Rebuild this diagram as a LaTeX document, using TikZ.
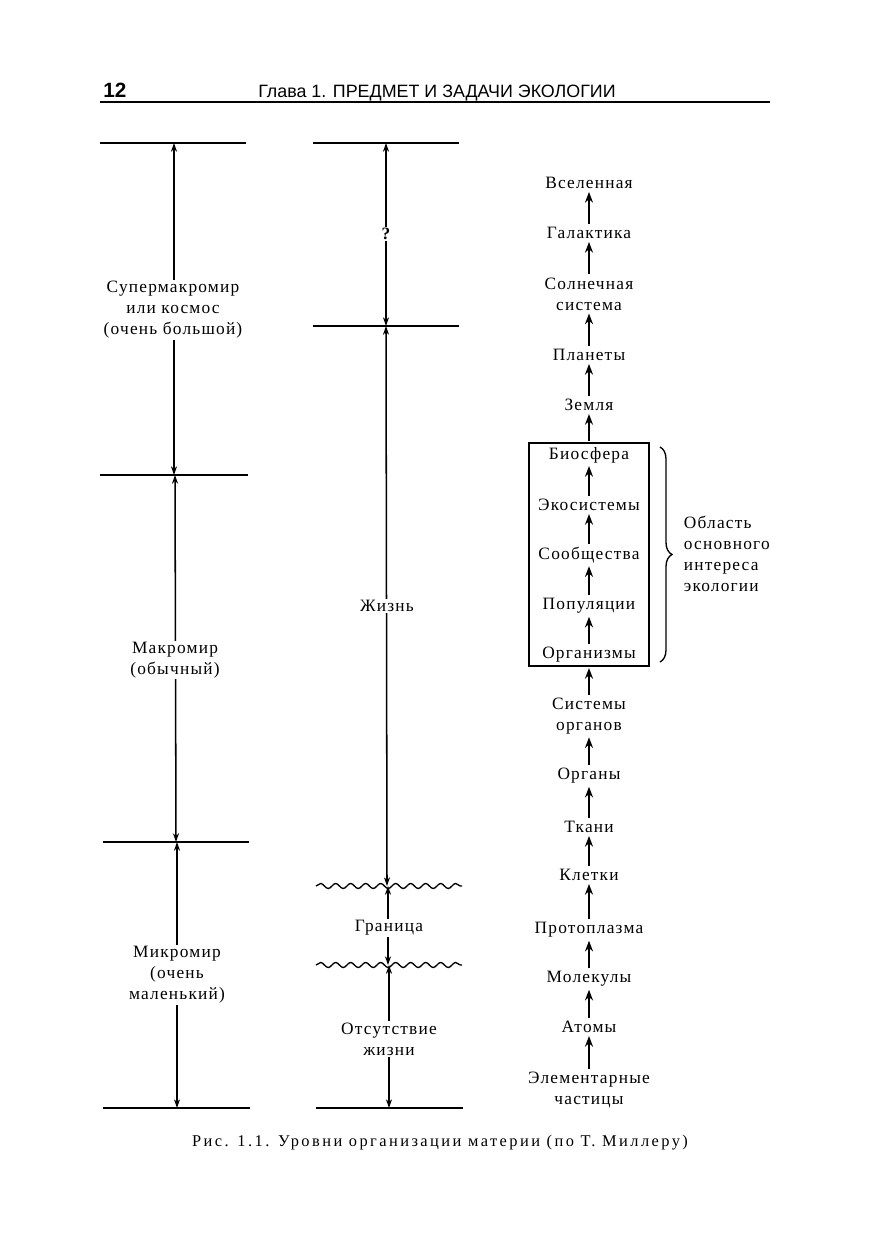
\documentclass[tikz,border=0pt]{standalone}
\usepackage{fontspec}
\setmainfont{Liberation Serif}
\newfontfamily\labfont[LetterSpace=7]{Liberation Serif}
\newfontfamily\capfontfam[LetterSpace=15]{Liberation Serif}
\newfontfamily\hdrfontfam{Liberation Sans}
\newfontfamily\hdrbold{Liberation Sans Bold}
\usetikzlibrary{arrows.meta,decorations.pathmorphing,decorations.pathreplacing}
\begin{document}
\begin{tikzpicture}[x=0.75pt,y=-0.75pt,
  lab/.style={font=\labfont\fontsize{13}{15.75}\selectfont, align=center, fill=white, inner sep=1pt},
  lvl/.style={font=\labfont\fontsize{13}{15.75}\selectfont, align=center, inner sep=1.2pt},
  hline/.style={line width=1.2pt},
  dim/.style={line width=1.15pt, {Stealth[length=6.5pt,width=4.5pt]}-{Stealth[length=6.5pt,width=4.5pt]}},
  up/.style={line width=1.9pt, -{Stealth[length=8pt,width=6pt]}, shorten <=1pt, shorten >=1pt},
  wave/.style={line width=1pt, decorate, decoration={snake, segment length=11.25pt, amplitude=1.9pt}}
]
\fill[white] (0,0) rectangle (883,1247);
\useasboundingbox (0,0) rectangle (883,1247);

% header
\node[font=\hdrbold\fontsize{15.5}{18}\selectfont, anchor=base west, inner sep=0] (pg) at (103,97) {12};
\node[font=\hdrfontfam\fontsize{13.4}{16}\selectfont, anchor=base west, inner sep=0] (hd) at (258,97) {Глава 1. ПРЕДМЕТ И ЗАДАЧИ ЭКОЛОГИИ};
\draw[line width=1.4pt] (100,102) -- (770,102);

% left column
\draw[hline] (100,143) -- (246,143);
\draw[hline] (100,475) -- (248,475);
\draw[hline] (103,842) -- (249,842);
\draw[hline] (103,1108) -- (250,1108);
\coordinate (a1) at (174,143);
\coordinate (a2) at (174,475);
\coordinate (a3) at (175,475);
\coordinate (a4) at (176,842);
\coordinate (a5) at (177,842);
\coordinate (a6) at (177,1108);
\draw[dim] (a1) -- (a2);
\draw[dim] (a3) -- (a4);
\draw[dim] (a5) -- (a6);
\node[lab] (supm) at (173,310) {Супермакромир\\или космос\\(очень большой)};
\node[lab] (makr) at (175,660) {Макромир\\(обычный)};
\node[lab] (mikr) at (177,975) {Микромир\\(очень\\маленький)};

% middle column
\draw[hline] (313,143) -- (459,143);
\draw[hline] (313,326) -- (459,326);
\draw[wave] (316,886) -- (462,886);
\draw[wave] (316,965) -- (462,965);
\draw[hline] (316,1108) -- (463,1108);
\coordinate (m1) at (386,143);
\coordinate (m2) at (386,326);
\coordinate (m3) at (387,886);
\coordinate (m4) at (388,886);
\coordinate (m5) at (388,965);
\coordinate (m6) at (389,965);
\coordinate (m7) at (389,1108);
\draw[dim] (m1) -- (m2);
\draw[dim] (m2) -- (m3);
\draw[dim] (m4) -- (m5);
\draw[dim] (m6) -- (m7);
\node[lab, font=\labfont\fontsize{13}{15.75}\selectfont\bfseries] (q) at (386,234) {?};
\node[lab] (zhizn) at (387,606) {Жизнь};
\node[lab] (gran) at (389,928) {Граница};
\node[lab] (otsut) at (389,1039) {Отсутствие\\жизни};

% right column
\node[lvl] (vsel) at (589,183) {Вселенная};
\node[lvl] (gal) at (589,233) {Галактика};
\node[lvl] (sol) at (589,294) {Солнечная\\система};
\node[lvl] (plan) at (589,355) {Планеты};
\node[lvl] (zem) at (589,405) {Земля};
\node[lvl] (bio) at (589,455) {Биосфера};
\node[lvl] (eko) at (589,505) {Экосистемы};
\node[lvl] (soob) at (589,555) {Сообщества};
\node[lvl] (pop) at (589,606) {Популяции};
\node[lvl] (org) at (589,655) {Организмы};
\node[lvl] (sist) at (589,716) {Системы\\органов};
\node[lvl] (organy) at (589,776) {Органы};
\node[lvl] (tkan) at (589,827) {Ткани};
\node[lvl] (klet) at (589,875) {Клетки};
\node[lvl] (prot) at (589,930) {Протоплазма};
\node[lvl] (mol) at (589,979) {Молекулы};
\node[lvl] (atom) at (589,1027) {Атомы};
\node[lvl] (elem) at (589,1090) {Элементарные\\частицы};

\node[draw, line width=1pt, minimum width=90pt, minimum height=167.25pt, inner sep=0] (box) at (589,554.5) {};

\draw[up] (gal) -- (vsel);
\draw[up] (sol) -- (gal);
\draw[up] (plan) -- (sol);
\draw[up] (zem) -- (plan);
\draw[up] (box.north) -- (zem);
\draw[up] (eko) -- (bio);
\draw[up] (soob) -- (eko);
\draw[up] (pop) -- (soob);
\draw[up] (org) -- (pop);
\draw[up] (sist) -- (box.south);
\draw[up] (organy) -- (sist);
\draw[up] (tkan) -- (organy);
\draw[up] (klet) -- (tkan);
\draw[up] (prot) -- (klet);
\draw[up] (mol) -- (prot);
\draw[up] (atom) -- (mol);
\draw[up] (elem) -- (atom);

\coordinate (b1) at (660,447);
\coordinate (b2) at (660,662);
\draw[line width=1pt, decorate, decoration={brace, amplitude=9pt}] (b1) -- (b2);
\node[lvl, align=left, anchor=west] (obl) at (682,554) {Область\\основного\\интереса\\экологии};

% caption
\node[font=\capfontfam\fontsize{12.3}{14}\selectfont, anchor=base, inner sep=0] (cap) at (440,1146) {Рис. 1.1. Уровни организации материи (по Т. Миллеру)};
\end{tikzpicture}
\end{document}
